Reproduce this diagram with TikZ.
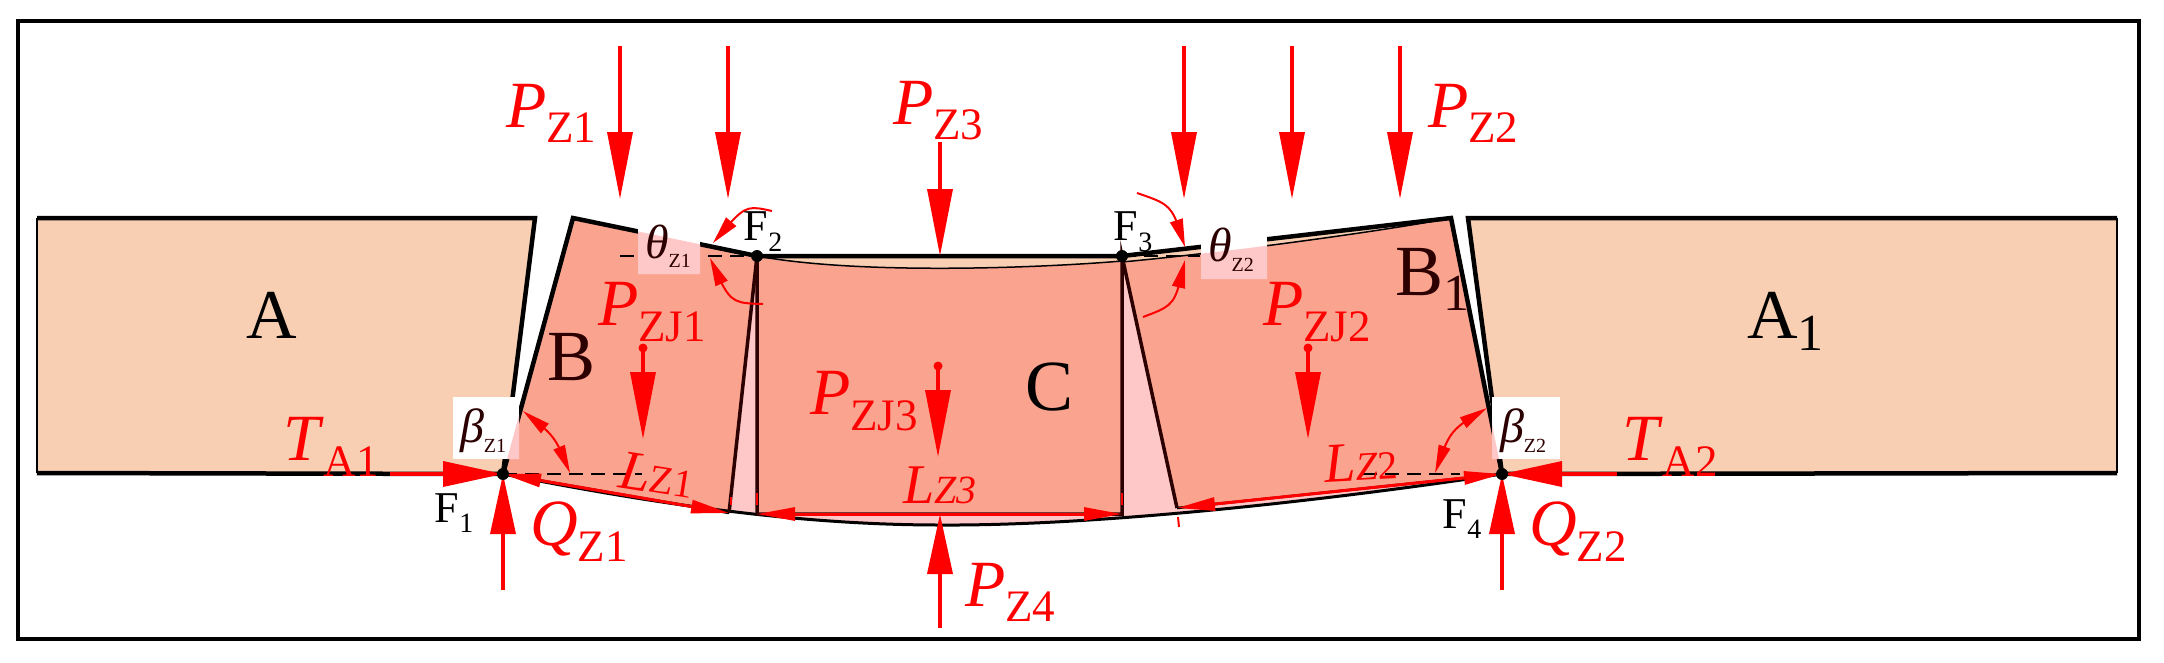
\documentclass[tikz,border=0pt]{standalone}
\usepackage{fontspec}
\setmainfont{Liberation Serif}
\usetikzlibrary{arrows.meta,bending}
\definecolor{beige}{HTML}{F8CFB2}
\definecolor{salmon}{HTML}{FAA490}
\definecolor{lpink}{HTML}{FFC8C8}
\definecolor{dk}{HTML}{2C0000}
\newcommand{\fs}[1]{\fontsize{#1}{#1}\selectfont}
\newcommand{\sbs}[4]{\kern#1pt\raisebox{-#2pt}{\fs{#3}#4}}
\tikzset{
 lab/.style={anchor=base west,inner sep=0pt,outer sep=0pt,text=red},
 blk/.style={anchor=base west,inner sep=0pt,outer sep=0pt,text=black},
 force/.style={draw=red,line width=3.5pt,-{Triangle[length=67pt,width=25pt,fill=red]}},
 inner/.style={draw=red,line width=3.5pt,-{Triangle[length=67pt,width=25pt,fill=red]}},
 push/.style={draw=red,line width=3.5pt,-{Triangle[length=60pt,width=25pt,fill=red]}},
 dim/.style={draw=red,line width=3pt,{Triangle[length=38pt,width=13pt,fill=red]}-{Triangle[length=38pt,width=13pt,fill=red]}},
 ang/.style={draw=red,line width=2pt,-{Triangle[length=28pt,width=13pt,fill=red]}},
 angb/.style={draw=red,line width=2pt,{Triangle[length=28pt,width=12pt,fill=red]}-{Triangle[length=28pt,width=12pt,fill=red]}},
 thick edge/.style={draw=black,line width=4.5pt,line join=miter},
 inner edge/.style={draw=dk,line width=3.5pt},
 dash line/.style={draw=black,line width=2pt,dash pattern=on 14pt off 8pt},
 dot/.style={circle,fill=black,inner sep=0pt,minimum size=12pt},
 tick/.style={draw=red,line width=2pt},
 wbox/.style={fill=white,draw=none},
}
\begin{document}
\begin{tikzpicture}[x=1pt,y=-1pt]
\useasboundingbox (0,0) rectangle (2164,662);
\fill[white] (0,0) rectangle (2164,662);
\draw[line width=3.5pt] (18,21) rectangle (2139,639);
% key coordinates
\coordinate (F1) at (503,474);
\coordinate (F2) at (757,256);
\coordinate (F3) at (1122,256);
\coordinate (F4) at (1502,474);
\coordinate (Btl) at (573,218);
\coordinate (Bbr) at (729,513);
\coordinate (Cbl) at (757,514);
\coordinate (Cbr) at (1122,514);
\coordinate (Dbl) at (1177,508);
\coordinate (Dtr) at (1451,218);
\coordinate (Bot) at (940,525);
% side blocks
\fill[beige] (37,218) -- (535,218) -- (F1) -- (37,473) -- cycle;
\fill[beige] (1468,218) -- (2117,218) -- (2117,473) -- (F4) -- cycle;
\draw[thick edge] (37,218) -- (535,218) -- (F1) -- (37,473);
\draw[line width=1.5pt] (37,218) -- (37,473);
\draw[thick edge] (2117,218) -- (1468,218) -- (F4) -- (2117,473);
\draw[line width=1.5pt] (2117,218) -- (2117,473);
% lens under layer
\fill[lpink] (F1) .. controls (640,501) and (790,525) .. (Bot) .. controls (1100,526) and (1330,500) .. (F4) -- (Dbl) -- (F3) -- (F2) -- cycle;
\fill[beige] (F2) -- (F3) -- (Dtr) .. controls (1400,228) and (1250,250) .. (1122,262) .. controls (1040,268) and (860,275) .. cycle;
% salmon blocks
\fill[salmon] (Btl) -- (F2) -- (Bbr) -- (F1) -- cycle;
\fill[salmon] (F2) .. controls (860,275) and (1040,268) .. (1122,261) -- (Cbr) -- (Cbl) -- cycle;
\fill[salmon] (1122,262) .. controls (1250,250) and (1400,228) .. (Dtr) -- (F4) -- (Dbl) -- cycle;
% outlines
\draw[line width=3pt] (F1) .. controls (640,501) and (790,525) .. (Bot) .. controls (1100,526) and (1330,500) .. (F4);
\draw[line width=1.5pt] (F2) .. controls (860,275) and (1040,268) .. (1122,261);
\draw[line width=1.5pt] (1122,262) .. controls (1250,250) and (1400,228) .. (Dtr);
\draw[thick edge] (F1) -- (Btl) -- (F2) -- (F3) -- (Dtr) -- (F4);
\draw[inner edge] (F2) -- (Bbr);
\draw[inner edge] (F2) -- (Cbl) -- (Cbr) -- (F3) -- (Dbl);
\draw[line width=2.5pt] (F1) -- (Bbr);
\draw[line width=2.5pt] (Dbl) -- (F4);
% dashes
\coordinate (d1) at (642,474);
\coordinate (d2) at (1460,474);
\coordinate (d2a) at (1363,474);
\coordinate (d3) at (620,256);
\coordinate (d4) at (1200,256);
\draw[dash line] (F1) -- (d1);
\draw[dash line] (d2a) -- (d2);
\draw[dash line] (d3) -- (F2);
\draw[dash line] (F3) -- (d4);
% label boxes
\fill[wbox] (453,397) rectangle (519,459);
\fill[wbox] (1492,397) rectangle (1560,459);
\fill[wbox] (638,212) rectangle (700,274);
\fill[wbox] (1201,217) rectangle (1267,279);
\begin{scope}
\clip (453,397) rectangle (519,459) (1492,397) rectangle (1560,459) (638,212) rectangle (700,274) (1201,217) rectangle (1267,279);
\fill[lpink] (Btl) -- (F2) -- (Bbr) -- (F1) -- cycle;
\fill[lpink] (1122,262) .. controls (1250,250) and (1400,228) .. (Dtr) -- (F4) -- (Dbl) -- cycle;
\end{scope}
% vertical loads
\coordinate (a1s) at (620,46); \coordinate (a1e) at (620,199);
\coordinate (a2s) at (728,46); \coordinate (a2e) at (728,199);
\coordinate (a3s) at (940,142); \coordinate (a3e) at (940,256);
\coordinate (a4s) at (1184,46); \coordinate (a4e) at (1184,199);
\coordinate (a5s) at (1292,46); \coordinate (a5e) at (1292,199);
\coordinate (a6s) at (1400,46); \coordinate (a6e) at (1400,199);
\foreach \n in {1,...,6} {\draw[force] (a\n s) -- (a\n e);}
% inner loads
\coordinate (j1s) at (643,348); \coordinate (j1e) at (643,439);
\coordinate (j2s) at (1308,348); \coordinate (j2e) at (1308,439);
\coordinate (j3s) at (938,366); \coordinate (j3e) at (938,457);
\foreach \n in {1,2,3} {\draw[inner] (j\n s) -- (j\n e); \fill[red] (j\n s) circle (4.5pt);}
% reactions
\coordinate (t1s) at (390,474);
\coordinate (t2s) at (1617,474);
\coordinate (q1s) at (503,590);
\coordinate (q2s) at (1502,590);
\coordinate (p4s) at (940,628);
\coordinate (p4e) at (940,514);
\draw[push] (t1s) -- (F1);
\draw[push] (t2s) -- (F4);
\draw[push] (q1s) -- (F1);
\draw[push] (q2s) -- (F4);
\draw[push] (p4s) -- (p4e);
% dimensions
\draw[dim] (F1) -- (Bbr);
\draw[dim] (Cbl) -- (Cbr);
\draw[dim] (Dbl) -- (F4);
\coordinate (k1a) at (731,497); \coordinate (k1b) at (731,505);
\coordinate (k2a) at (757,493); \coordinate (k2b) at (757,505);
\coordinate (k3a) at (1122,493); \coordinate (k3b) at (1122,505);
\coordinate (k4a) at (1178,517); \coordinate (k4b) at (1179,527);
\foreach \n in {1,...,4} {\draw[tick] (k\n a) -- (k\n b);}
% beta arcs
\coordinate (b1a) at (523,411); \coordinate (b1m) at (555,436); \coordinate (b1b) at (570,473);
\coordinate (b2a) at (1487,408); \coordinate (b2m) at (1450,430); \coordinate (b2b) at (1435,473);
\draw[angb] (b1a) .. controls (b1m) .. (b1b);
\draw[angb] (b2a) .. controls (b2m) .. (b2b);
% theta arcs
\coordinate (t1a) at (772,211); \coordinate (t1b) at (713,243);
\coordinate (t2a) at (763,304); \coordinate (t2b) at (710,258);
\coordinate (t3a) at (1137,193); \coordinate (t3b) at (1185,247);
\coordinate (t4a) at (1143,317); \coordinate (t4b) at (1185,260);
\draw[ang] (t1a) .. controls (745,205) .. (t1b);
\draw[ang] (t2a) .. controls (730,303) .. (t2b);
\draw[ang] (t3a) .. controls (1172,205) .. (t3b);
\draw[ang] (t4a) .. controls (1175,305) .. (t4b);
% block letters
\node[blk,font=\fs{70}] (lA) at (246,338) {A};
\node[blk,font=\fs{70}] (lAo) at (1747,338) {A\sbs{0}{12}{52}{1}};
\node[blk,font=\fs{72},text=dk] (lB) at (547,380) {B};
\node[blk,font=\fs{72},text=dk] (lBo) at (1395,295) {B\sbs{0}{15}{52}{1}};
\node[blk,font=\fs{72},text=black] (lC) at (1025,410) {C};
% F labels
\node[blk,font=\fs{44}] (lF1) at (434,522) {F\sbs{1}{10}{28}{1}};
\node[blk,font=\fs{44}] (lF2) at (743,240) {F\sbs{1}{11}{28}{2}};
\node[blk,font=\fs{44}] (lF3) at (1113,240) {F\sbs{1}{11}{28}{3}};
\node[blk,font=\fs{44}] (lF4) at (1442,528) {F\sbs{1}{10}{28}{4}};
% forces
\node[lab,font=\fs{66}] (lP1) at (506,127) {\textit{P}\sbs{0}{15}{45}{Z1}};
\node[lab,font=\fs{66}] (lP2) at (1428,127) {\textit{P}\sbs{0}{15}{45}{Z2}};
\node[lab,font=\fs{66}] (lP3) at (893,124) {\textit{P}\sbs{0}{15}{45}{Z3}};
\node[lab,font=\fs{66}] (lP4) at (965,606) {\textit{P}\sbs{0}{15}{45}{Z4}};
\node[lab,font=\fs{66}] (lJ1) at (598,325) {\textit{P}\sbs{0}{16}{45}{ZJ1}};
\node[lab,font=\fs{66}] (lJ2) at (1263,325) {\textit{P}\sbs{0}{16}{45}{ZJ2}};
\node[lab,font=\fs{66}] (lJ3) at (810,414) {\textit{P}\sbs{0}{16}{45}{ZJ3}};
\node[lab,font=\fs{66}] (lT1) at (283,460) {\textit{T}\sbs{0}{16}{45}{A1}};
\node[lab,font=\fs{66}] (lT2) at (1622,460) {\textit{T}\sbs{0}{16}{45}{A2}};
\node[lab,font=\fs{66}] (lQ1) at (530,545) {\textit{Q}\sbs{0}{16}{45}{Z1}};
\node[lab,font=\fs{66}] (lQ2) at (1529,545) {\textit{Q}\sbs{0}{16}{45}{Z2}};
% lengths
\node[lab,font=\fs{56},rotate=-9] (lL1) at (617,487) {\textit{L}\fs{40}Z1};
\node[lab,font=\fs{56},rotate=3] (lL2) at (1325,482) {\textit{L}\fs{40}\textit{Z}2};
\node[lab,font=\fs{56}] (lL3) at (903,503) {\textit{L}\fs{40}\textit{Z3}};
% angles
\node[blk,font=\fs{48},text=dk] (lth1) at (645,258) {\textit{θ}\sbs{0}{9}{20}{Z1}};
\node[blk,font=\fs{48},text=dk] (lth2) at (1208,261) {\textit{θ}\sbs{0}{10}{20}{Z2}};
\node[blk,font=\fs{48},text=dk] (lb1) at (460,442) {\textit{β}\sbs{0}{10}{20}{Z1}};
\node[blk,font=\fs{48},text=dk] (lb2) at (1500,442) {\textit{β}\sbs{0}{10}{20}{Z2}};
% hinge dots
\node[dot] (nF1) at (F1) {};
\node[dot] (nF2) at (F2) {};
\node[dot] (nF3) at (F3) {};
\node[dot] (nF4) at (F4) {};
\end{tikzpicture}
\end{document}
